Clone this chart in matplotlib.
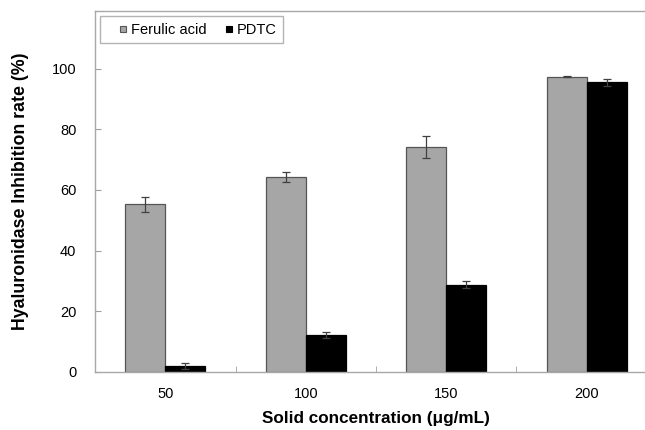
import matplotlib.pyplot as plt
from matplotlib.lines import Line2D
import numpy as np

plt.rcParams['font.family'] = ['Liberation Sans', 'DejaVu Sans']

# Data
concentrations = ['50', '100', '150', '200']
ferulic = [55.3, 64.3, 74.2, 97.4]
ferulic_err = [2.5, 1.7, 3.6, 0.3]
pdtc = [2.1, 12.3, 28.8, 95.5]
pdtc_err = [1.0, 1.0, 1.1, 1.2]

x = np.arange(len(concentrations))
w = 0.285

fig = plt.figure(figsize=(6.45, 4.3), dpi=100)
ax = fig.add_axes([0.1473, 0.1349, 0.8713, 0.8395])

ax.bar(x - w / 2, ferulic, w, color='#a6a6a6', edgecolor='#555555', linewidth=0.9,
       yerr=ferulic_err, capsize=3, error_kw=dict(ecolor='#404040', elinewidth=0.9, capthick=0.9))
ax.bar(x + w / 2, pdtc, w, color='black', edgecolor='black', linewidth=0.9,
       yerr=pdtc_err, capsize=3, error_kw=dict(ecolor='#404040', elinewidth=0.9, capthick=0.9))

ax.set_xlim(-0.5, 3.5)
ax.set_ylim(0, 119)
ax.set_yticks([0, 20, 40, 60, 80, 100])

# category labels centred, tick marks between categories
ax.set_xticks(x)
ax.set_xticklabels(concentrations, fontsize=10.5)
ax.set_xticks(np.arange(0.5, 3.5, 1.0), minor=True)
ax.tick_params(axis='x', which='major', length=0, pad=11)
ax.tick_params(axis='x', which='minor', direction='in', length=4, color='#a0a0a0')
ax.tick_params(axis='y', direction='in', length=4, color='#a0a0a0', labelsize=10.5, pad=13.5)

for side in ['left', 'bottom', 'top']:
    ax.spines[side].set_color('#a8a8a8')
    ax.spines[side].set_linewidth(1.0)
ax.spines['right'].set_visible(False)

ax.set_xlabel('Solid concentration (μg/mL)', fontsize=12.3, fontweight='bold', labelpad=7)
ax.set_ylabel('Hyaluronidase Inhibition rate (%)', fontsize=12.8, fontweight='bold', labelpad=16)

handles = [
    Line2D([], [], linestyle='none', marker='s', markersize=5, markerfacecolor='#a6a6a6',
           markeredgecolor='#555555', markeredgewidth=0.8),
    Line2D([], [], linestyle='none', marker='s', markersize=5, markerfacecolor='black',
           markeredgecolor='black', markeredgewidth=0.8),
]
leg = ax.legend(handles, ['Ferulic acid', 'PDTC'], loc='upper left', ncol=2, fontsize=10.5,
                frameon=True, fancybox=False, edgecolor='#a0a0a0', handlelength=2.2,
                handletextpad=-0.55, columnspacing=0.45, borderpad=0.45,
                borderaxespad=0.35, bbox_to_anchor=(0, 1))
leg.get_frame().set_linewidth(1.0)

plt.savefig('out.png', dpi=100)
